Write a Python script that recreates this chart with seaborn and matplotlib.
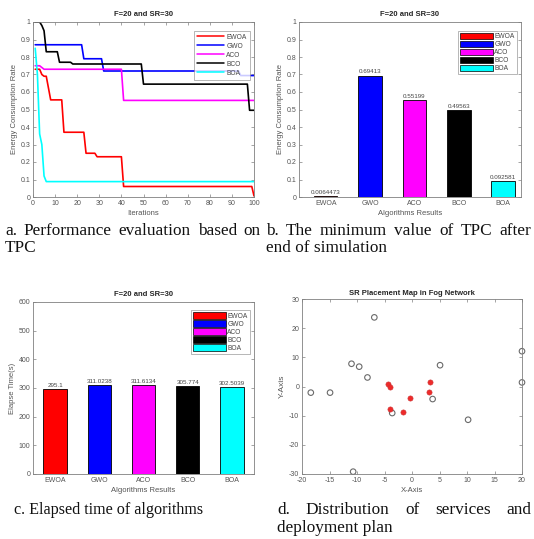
import matplotlib
matplotlib.use("Agg")
import matplotlib.pyplot as plt
from matplotlib.lines import Line2D
from matplotlib.patches import Patch
import numpy as np
import pandas as pd
import seaborn as sns

algs = ["EWOA", "GWO", "ACO", "BCO", "BOA"]
colors = ["#ff0000", "#0000ff", "#ff00ff", "#000000", "#00ffff"]

# convergence curves (iteration, value) vertices
ewoa_it = [1, 3, 4, 5, 6, 8, 13, 14, 23, 24, 28, 29, 40, 41, 99, 100]
ewoa_val = [0.73, 0.73, 0.70, 0.69, 0.69, 0.555, 0.555, 0.37, 0.37, 0.25, 0.25, 0.23, 0.23, 0.06, 0.06, 0.0064]
gwo_it = [1, 22, 23, 31, 32, 93, 94, 100]
gwo_val = [0.87, 0.87, 0.79, 0.79, 0.72, 0.72, 0.694, 0.694]
aco_it = [1, 3, 5, 40, 41, 100]
aco_val = [0.75, 0.75, 0.73, 0.73, 0.552, 0.552]
bco_it = [1, 3, 4, 5, 6, 11, 12, 17, 18, 49, 50, 97, 98, 100]
bco_val = [1.0, 1.0, 0.98, 0.95, 0.83, 0.83, 0.77, 0.77, 0.76, 0.76, 0.645, 0.645, 0.4956, 0.4956]
boa_it = [1, 2, 3, 4, 5, 6, 100]
boa_val = [0.85, 0.70, 0.36, 0.30, 0.12, 0.088, 0.088]

# panel b / c bars
tpc_min = [0.0064473, 0.69413, 0.55199, 0.49563, 0.092581]
tpc_labels = ["0.0064473", "0.69413", "0.55199", "0.49563", "0.092581"]
elapsed = [295.1, 311.0238, 311.6134, 305.774, 302.5039]
elapsed_labels = ["295.1", "311.0238", "311.6134", "305.774", "302.5039"]

# panel d points
fog_x = [-18.4, -14.9, -11.0, -9.6, -8.1, -6.85, -3.6, 3.75, 5.1, 10.2, 20.0, 20.0, -10.7]
fog_y = [-2.1, -2.1, 7.8, 6.8, 3.1, 23.7, -9.1, -4.3, 7.3, -11.4, 12.1, 1.4, -29.2]
sr_x = [-4.4, -4.0, -4.0, -1.6, -0.3, 3.2, 3.0]
sr_y = [0.9, -0.2, -7.7, -8.9, -3.9, 1.5, -1.8]

sns.set_theme(style="white")
plt.rcParams["font.family"] = ["Liberation Sans", "DejaVu Sans"]
plt.rcParams["axes.unicode_minus"] = False

fig = plt.figure(figsize=(5.34, 5.39), dpi=100)
W, H = 534, 539


def add_ax(l, t, r, b):
    return fig.add_axes([l / W, 1 - b / H, (r - l) / W, (b - t) / H])


def style(ax):
    for s in ax.spines.values():
        s.set_color("#808080")
        s.set_linewidth(0.6)
    ax.tick_params(direction="in", length=2, width=0.5, color="#808080",
                   labelsize=5, labelcolor="#555555", top=True, right=True,
                   bottom=True, left=True, pad=2)
    ax.title.set_fontsize(5.5)
    ax.title.set_fontweight("bold")


lab = dict(fontsize=5.5, color="#555555", labelpad=2)

# a. convergence
ax = add_ax(33, 22, 254, 197)
curves = [(ewoa_it, ewoa_val), (gwo_it, gwo_val), (aco_it, aco_val), (bco_it, bco_val), (boa_it, boa_val)]
for name, c, (it, v) in zip(algs, colors, curves):
    sns.lineplot(x=it, y=v, color=c, lw=1.2, ax=ax, estimator=None, sort=False)
ax.set_xlim(0, 100)
ax.set_ylim(0, 1)
ax.set_xticks(np.arange(0, 101, 10))
ax.set_yticks(np.arange(0, 1.01, 0.1))
ax.set_yticklabels(["0", "0.1", "0.2", "0.3", "0.4", "0.5", "0.6", "0.7", "0.8", "0.9", "1"])
ax.set_title("F=20 and SR=30", pad=4)
ax.set_xlabel("Iterations", **lab)
ax.set_ylabel("Energy Consumption Rate", **lab)
handles = [Line2D([], [], color=c, lw=1.1) for c in colors]
leg = ax.legend(handles, algs, loc="upper right", fontsize=4.8, frameon=True, fancybox=False,
                handlelength=4, handletextpad=0.4, borderpad=0.45, labelspacing=0.3,
                edgecolor="#808080", bbox_to_anchor=(0.995, 0.97))
leg.get_frame().set_linewidth(0.5)
for t in leg.get_texts():
    t.set_color("#444444")
style(ax)

# b / c bar charts
def bars(ax, vals, labels, ylim, ticks, xlim, ylabel, fmt_ticks=None):
    sns.barplot(x=algs, y=vals, hue=algs, palette=colors, width=0.53, edgecolor="black",
                linewidth=0.6, legend=False, ax=ax, saturation=1)
    for i, (v, s) in enumerate(zip(vals, labels)):
        ax.text(i, v + ylim[1] * 0.006, s, ha="center", va="bottom", fontsize=4.5, color="#444444")
    ax.set_xlim(*xlim)
    ax.set_ylim(*ylim)
    ax.set_yticks(ticks)
    if fmt_ticks:
        ax.set_yticklabels(fmt_ticks)
    ax.set_title("F=20 and SR=30", pad=4)
    ax.set_xlabel("Algorithms Results", **lab)
    ax.set_ylabel(ylabel, **lab)
    handles = [Patch(facecolor=c, edgecolor="black", lw=0.5) for c in colors]
    leg = ax.legend(handles, algs, loc="upper right", fontsize=4.8, frameon=True, fancybox=False,
                    handlelength=5, handleheight=1.2, handletextpad=0.2, borderpad=0.3,
                    labelspacing=0.05, edgecolor="#808080", bbox_to_anchor=(0.995, 0.97))
    leg.get_frame().set_linewidth(0.5)
    for t in leg.get_texts():
        t.set_color("#444444")
    style(ax)
    ax.tick_params(axis="x", top=False, length=0)


ax = add_ax(299, 22, 521, 197)
bars(ax, tpc_min, tpc_labels, (0, 1), np.arange(0, 1.01, 0.1), (-0.6, 4.4),
     "Energy Consumption Rate",
     ["0", "0.1", "0.2", "0.3", "0.4", "0.5", "0.6", "0.7", "0.8", "0.9", "1"])

ax = add_ax(33, 302, 254, 474)
bars(ax, elapsed, elapsed_labels, (0, 600), np.arange(0, 601, 100), (-0.5, 4.5), "Elapse Time(s)")

# d. placement map
ax = add_ax(302, 299, 522, 474)
sns.scatterplot(x=fog_x, y=fog_y, marker="o", s=16, facecolors="none", edgecolor="#6a6a6a",
                linewidth=0.8, ax=ax, clip_on=False)
sns.scatterplot(x=sr_x, y=sr_y, marker="o", s=14, color="#ee2a2a", edgecolor="#cc3333",
                linewidth=0.4, ax=ax)
ax.set_xlim(-20, 20)
ax.set_ylim(-30, 30)
ax.set_xticks(np.arange(-20, 21, 5))
ax.set_yticks(np.arange(-30, 31, 10))
ax.set_title("SR Placement Map in Fog Network", pad=3)
ax.set_xlabel("X-Axis", **lab)
ax.set_ylabel("Y-Axis", fontsize=6, color="#555555", labelpad=2)
style(ax)

# captions (justified like the source document)
serif = ["Liberation Serif", "DejaVu Serif"]


def caption(x, y, s, size):
    return fig.text(x / W, 1 - y / H, s, fontsize=size, family=serif, color="#111111", va="center")


def justify(words, x0, x1, y, size):
    texts = [caption(0, y, w, size) for w in words]
    fig.canvas.draw()
    r = fig.canvas.get_renderer()
    widths = [t.get_window_extent(r).width for t in texts]
    gap = (x1 - x0 - sum(widths)) / (len(words) - 1)
    x = x0
    for t, w in zip(texts, widths):
        t.set_x(x / W)
        x += w + gap


justify("a. Performance evaluation based on".split(), 5, 261, 231, 12.4)
caption(5, 248, "TPC", 12.4)
justify("b. The minimum value of TPC after".split(), 266, 531, 231, 12.4)
caption(266, 248, "end of simulation", 12.4)
caption(14, 510, "c. Elapsed time of algorithms", 11.6)
justify("d. Distribution of services and".split(), 277, 531, 510, 12.4)
caption(277, 528, "deployment plan", 12.4)

fig.savefig("out.png", dpi=100, facecolor="white")
